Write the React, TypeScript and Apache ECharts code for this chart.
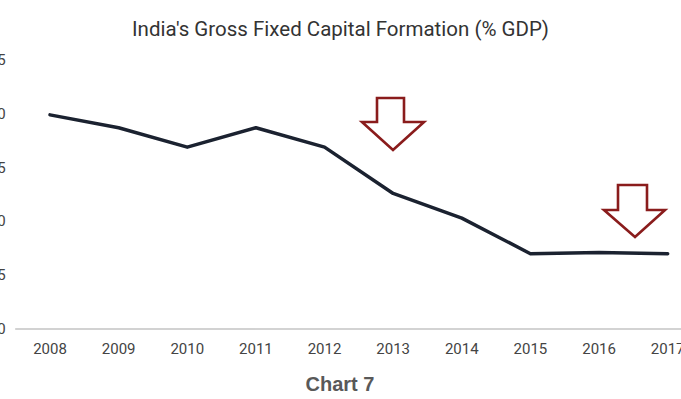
import React, { useEffect, useRef } from "react";
import * as echarts from "echarts";

const years = ["2008", "2009", "2010", "2011", "2012", "2013", "2014", "2015", "2016", "2017"];
const gfcf = [39.9, 38.7, 36.9, 38.7, 36.9, 32.6, 30.3, 27.0, 27.1, 27.0];
const yMin = 20;
const yMax = 45;
const yStep = 5;
const titleText = "India's Gross Fixed Capital Formation (% GDP)";
const captionText = "Chart 7";

const OFFSET = 40; // chart canvas extends beyond page on both sides (cropped look)

export default function App() {
  const ref = useRef<HTMLDivElement>(null);
  useEffect(() => {
    if (!ref.current) return;
    const chart = echarts.init(ref.current, undefined, { renderer: "svg" });
    const arrow = (pts: number[][]) => ({
      type: "polygon",
      shape: { points: pts.map(([x, y]) => [x + OFFSET, y]) },
      style: { fill: "#ffffff", stroke: "#8a1c1c", lineWidth: 2.6, lineJoin: "miter" },
      z: 10,
    });
    chart.setOption({
      animation: false,
      backgroundColor: "#ffffff",
      textStyle: { fontFamily: "Roboto" },
      title: [
        {
          text: titleText,
          left: "center",
          top: 13,
          textStyle: { fontFamily: "Roboto", fontSize: 20.5, fontWeight: "normal", color: "#333333" },
        },
        {
          text: captionText,
          left: 335 + OFFSET,
          top: 369,
          textAlign: "center",
          textStyle: { fontFamily: "Liberation Sans", fontSize: 20, fontWeight: "bold", color: "#595959" },
        },
      ],
      grid: { left: 15.7 + OFFSET, right: 761 - (702 + OFFSET), top: 60, bottom: 70, containLabel: false },
      xAxis: {
        type: "category",
        data: years,
        boundaryGap: true,
        axisLine: { show: true, lineStyle: { color: "#c4c4c4", width: 1.5 } },
        axisTick: { show: false },
        axisLabel: { color: "#444444", fontSize: 15, margin: 12, fontFamily: "Roboto" },
      },
      yAxis: {
        type: "value",
        min: yMin,
        max: yMax,
        interval: yStep,
        axisLine: { show: false },
        axisTick: { show: false },
        splitLine: { show: false },
        axisLabel: { color: "#444444", fontSize: 15, margin: 10, fontFamily: "Roboto" },
      },
      series: [
        {
          type: "line",
          data: gfcf,
          showSymbol: false,
          symbol: "none",
          lineStyle: { color: "#1b2230", width: 3.5, cap: "round", join: "round" },
        },
      ],
      graphic: [
        arrow([[377, 98], [404, 98], [404, 122], [424, 122], [393, 150], [362, 122], [377, 122]]),
        arrow([[618, 185], [647, 185], [647, 210], [665, 210], [635, 237], [604, 210], [618, 210]]),
      ],
    });
    return () => chart.dispose();
  }, []);
  return (
    <div style={{ position: "absolute", left: 0, top: 0, width: 681, height: 399, overflow: "hidden", background: "#fff" }}>
      <div ref={ref} style={{ position: "absolute", left: -OFFSET, top: 0, width: 681 + 2 * OFFSET, height: 399 }} />
    </div>
  );
}
